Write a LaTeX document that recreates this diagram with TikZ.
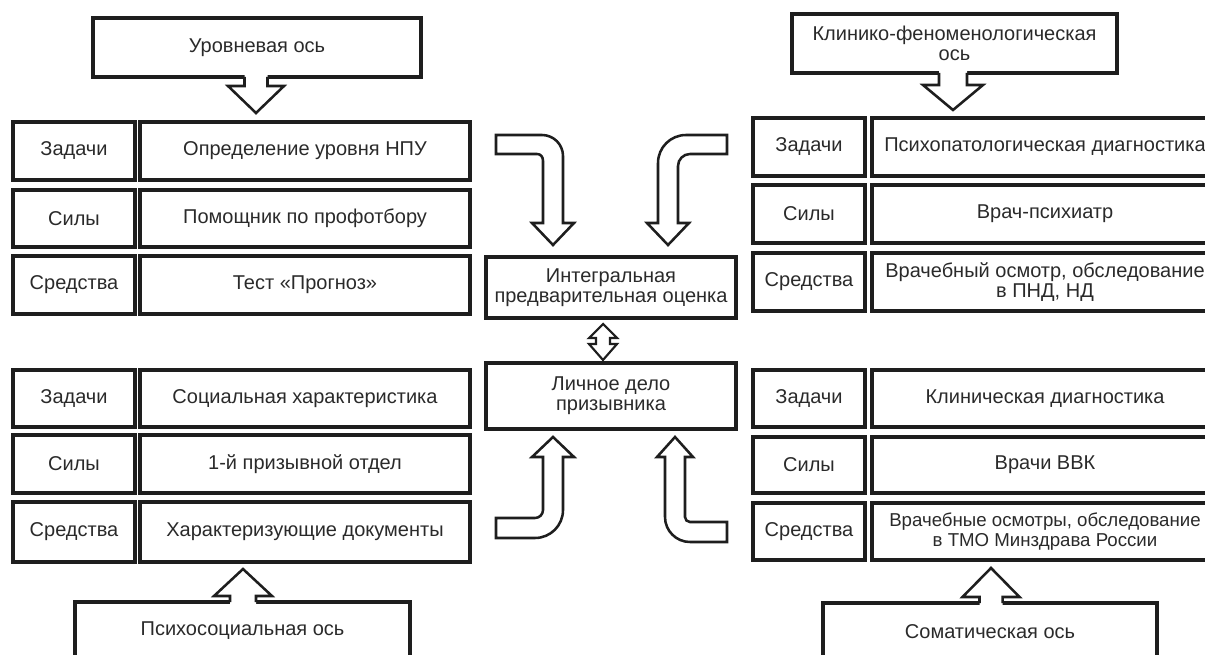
\documentclass[tikz,border=0pt]{standalone}
\usepackage{fontspec}
\setmainfont{Liberation Sans}
\definecolor{ink}{HTML}{1E1E1E}
\definecolor{txt}{HTML}{2A2A2A}
\newcommand\bnode[7][]{\node[box,#1, minimum width={(#5-#3)*0.75pt}, minimum height={(#6-#4)*0.75pt}] (#2) at ({(#3+#5)/2},{(#4+#6)/2}) {#7};}
% straight block arrow attached to a box: cx, ystart, ybase, ytip, half stem, half head, overlap
\newcommand\axarrow[7]{%
  \fill[white] ({#1-#5},{#2+#7}) -- ({#1-#5},#3) -- ({#1-#6},#3) -- (#1,#4) -- ({#1+#6},#3) -- ({#1+#5},#3) -- ({#1+#5},{#2+#7}) -- cycle;
  \draw[arrline] ({#1-#5},#2) -- ({#1-#5},#3) -- ({#1-#6},#3) -- (#1,#4) -- ({#1+#6},#3) -- ({#1+#5},#3) -- ({#1+#5},#2);}
\begin{document}
\begin{tikzpicture}[x=0.75pt,y=-0.75pt,
  box/.style={draw=ink, line width=2.3pt, inner sep=0pt, align=center, text=txt, font=\fontsize{15}{15.2}\selectfont},
  smalltext/.style={font=\fontsize{14}{15.2}\selectfont},
  arrline/.style={draw=ink, line width=1.9pt, line join=miter},
  blockarrow/.style={draw=ink, fill=white, line width=1.9pt, line join=miter}]
\useasboundingbox (0,0) rectangle (1205,655);
\clip (0,0) rectangle (1205,655);
% axis boxes
\bnode{axL}{93}{18}{421}{77}{Уровневая ось}
\bnode{axR}{792}{14}{1117}{73}{Клинико-феноменологическая\\ось}
\bnode{axBL}{75}{602}{410}{660}{Психосоциальная ось}
\bnode{axBR}{823}{603}{1157}{660}{Соматическая ось}
% top-left rows
\bnode{tlA}{13}{122}{135}{180}{Задачи}
\bnode{tlAc}{140}{122}{470}{180}{Определение уровня НПУ}
\bnode{tlB}{13}{190}{135}{247}{Силы}
\bnode{tlBc}{140}{190}{470}{247}{Помощник по профотбору}
\bnode{tlC}{13}{256}{135}{314}{Средства}
\bnode{tlCc}{140}{256}{470}{314}{Тест «Прогноз»}
% top-right rows
\bnode{trA}{753}{118}{865}{176}{Задачи}
\bnode{trAc}{872}{118}{1218}{176}{Психопатологическая диагностика}
\bnode{trB}{753}{185}{865}{243}{Силы}
\bnode{trBc}{872}{185}{1218}{243}{Врач-психиатр}
\bnode{trC}{753}{253}{865}{311}{Средства}
\bnode{trCc}{872}{253}{1218}{311}{Врачебный осмотр, обследование\\в ПНД, НД}
% bottom-left rows
\bnode{blA}{13}{370}{135}{427}{Задачи}
\bnode{blAc}{140}{370}{470}{427}{Социальная характеристика}
\bnode{blB}{13}{435}{135}{493}{Силы}
\bnode{blBc}{140}{435}{470}{493}{1-й призывной отдел}
\bnode{blC}{13}{502}{135}{562}{Средства}
\bnode{blCc}{140}{502}{470}{562}{Характеризующие документы}
% bottom-right rows
\bnode{brA}{753}{370}{865}{427}{Задачи}
\bnode{brAc}{872}{370}{1218}{427}{Клиническая диагностика}
\bnode{brB}{753}{437}{865}{493}{Силы}
\bnode{brBc}{872}{437}{1218}{493}{Врачи ВВК}
\bnode{brC}{753}{503}{865}{560}{Средства}
\bnode[smalltext]{brCc}{872}{503}{1218}{560}{Врачебные осмотры, обследование\\в ТМО Минздрава России}
% centre
\bnode{integ}{486}{257}{736}{318}{Интегральная\\предварительная оценка}
\bnode{delo}{486}{363}{736}{429}{Личное дело\\призывника}
% axis arrows
\axarrow{256}{77}{86}{113}{11.5}{28}{-3}
\axarrow{953}{73}{85}{110}{14}{30}{-3}
\axarrow{243}{602}{596}{569}{13}{29}{3}
\axarrow{991}{603}{597}{568}{11.5}{28.5}{3}
% double arrow between centre boxes
\draw[blockarrow, line width=1.6pt] (603,324) -- (617,338) -- (610,338) -- (610,344) -- (617,344) -- (603,360) -- (589,344) -- (596,344) -- (596,338) -- (589,338) -- cycle;
% curved arrows
\draw[blockarrow] (496,135) -- (542,135) .. controls (553.6,135) and (563,144.4) .. (563,156) -- (563,223) -- (574,223) -- (553,245) -- (532,223) -- (543,223) -- (543,161) .. controls (543,157.1) and (540.9,154) .. (537,154) -- (496,154) -- cycle;
\draw[blockarrow] (727,135) -- (686,135) .. controls (670.5,135) and (658,147.5) .. (658,163) -- (658,223) -- (647,223) -- (668,245) -- (689,223) -- (678,223) -- (678,166) .. controls (678,159.4) and (683.4,154) .. (690,154) -- (727,154) -- cycle;
\draw[blockarrow] (553,437) -- (574,457) -- (563,457) -- (563,510) .. controls (563,525.5) and (550.5,538) .. (535,538) -- (496,538) -- (496,518) -- (535,518) .. controls (539.4,518) and (543,514.4) .. (543,510) -- (543,457) -- (532,457) -- cycle;
\draw[blockarrow] (675,437) -- (693,457) -- (685,457) -- (685,517) .. controls (685,519.8) and (687.2,522) .. (690,522) -- (727,522) -- (727,542) -- (690,542) .. controls (676.2,542) and (665,530.8) .. (665,517) -- (665,457) -- (657,457) -- cycle;
\end{tikzpicture}
\end{document}
